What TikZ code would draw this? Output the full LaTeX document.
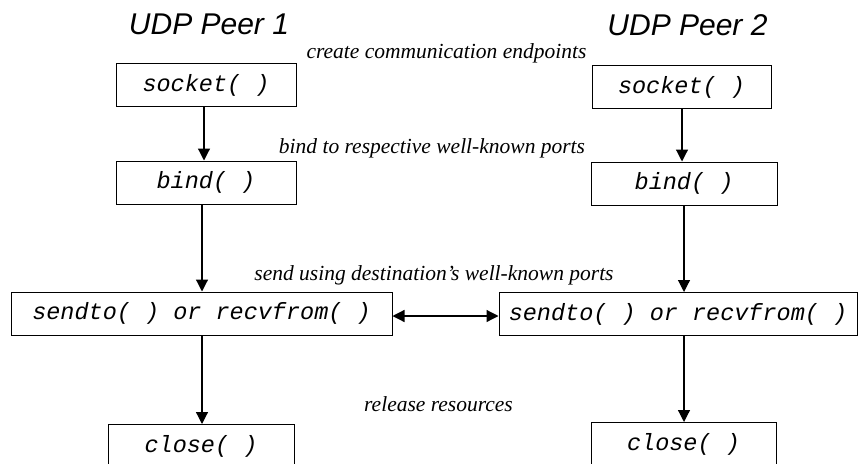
\documentclass[tikz,border=0pt]{standalone}
\usepackage{fontspec}
\setmainfont{Liberation Serif}
\newfontfamily\peerfont{Liberation Sans}
\newfontfamily\callfont{Liberation Mono}
\usetikzlibrary{arrows.meta}

\tikzset{
  call/.style={draw, line width=1pt, inner sep=0pt, minimum height=43pt,
    font=\callfont\itshape\fontsize{23.5}{28}\selectfont},
  flow/.style={line width=1.2pt, -{Triangle[width=12pt,length=12pt]}},
  flowboth/.style={line width=1.2pt, {Triangle[width=12pt,length=12pt]}-{Triangle[width=12pt,length=12pt]}},
  note/.style={anchor=base, inner sep=0pt, font=\itshape\fontsize{21.5}{26}\selectfont},
  peer/.style={anchor=base, inner sep=0pt, font=\peerfont\itshape\fontsize{30}{36}\selectfont}
}

\begin{document}
\begin{tikzpicture}[x=1pt,y=-1pt]
\useasboundingbox (0,0) rectangle (859,463);
% the two peers
\node[peer] (peerA) at (209,34) {UDP Peer 1};
\node[peer] (peerB) at (687.5,35) {UDP Peer 2};
% calls of peer 1
\node[call, minimum width=180pt] (sockA) at (206,85) {socket( )};
\node[call, minimum width=180pt] (bindA) at (206,182.5) {bind( )};
\node[call, minimum width=381pt] (sendA) at (201.5,313.5) {sendto( ) or recvfrom( )};
\node[call, minimum width=186pt] (closeA) at (201,446) {close( )};
% calls of peer 2
\node[call, minimum width=179pt] (sockB) at (681.5,87) {socket( )};
\node[call, minimum width=186pt] (bindB) at (684,183.5) {bind( )};
\node[call, minimum width=358pt] (sendB) at (678,314) {sendto( ) or recvfrom( )};
\node[call, minimum width=185pt] (closeB) at (683.5,444) {close( )};
% what each step does
\node[note] (n1) at (446.5,58) {create communication endpoints};
\node[note] (n2) at (432,153) {bind to respective well-known ports};
\node[note] (n3) at (434,280) {send using destination’s well-known ports};
\node[note] (n4) at (438.5,411) {release resources};
% arrows
\draw[flow] (sockA.south -| 204,0) -- (bindA.north -| 204,0);
\draw[flow] (bindA.south -| 202,0) -- (sendA.north -| 202,0);
\draw[flow] (sendA.south -| 202,0) -- (closeA.north -| 202,0);
\draw[flow] (sockB.south -| 682,0) -- (bindB.north -| 682,0);
\draw[flow] (bindB.south -| 684,0) -- (sendB.north -| 684,0);
\draw[flow] (sendB.south -| 684,0) -- (closeB.north -| 684,0);
\draw[flowboth] (sendA.east |- 0,316) -- (sendB.west |- 0,316);
\end{tikzpicture}
\end{document}
